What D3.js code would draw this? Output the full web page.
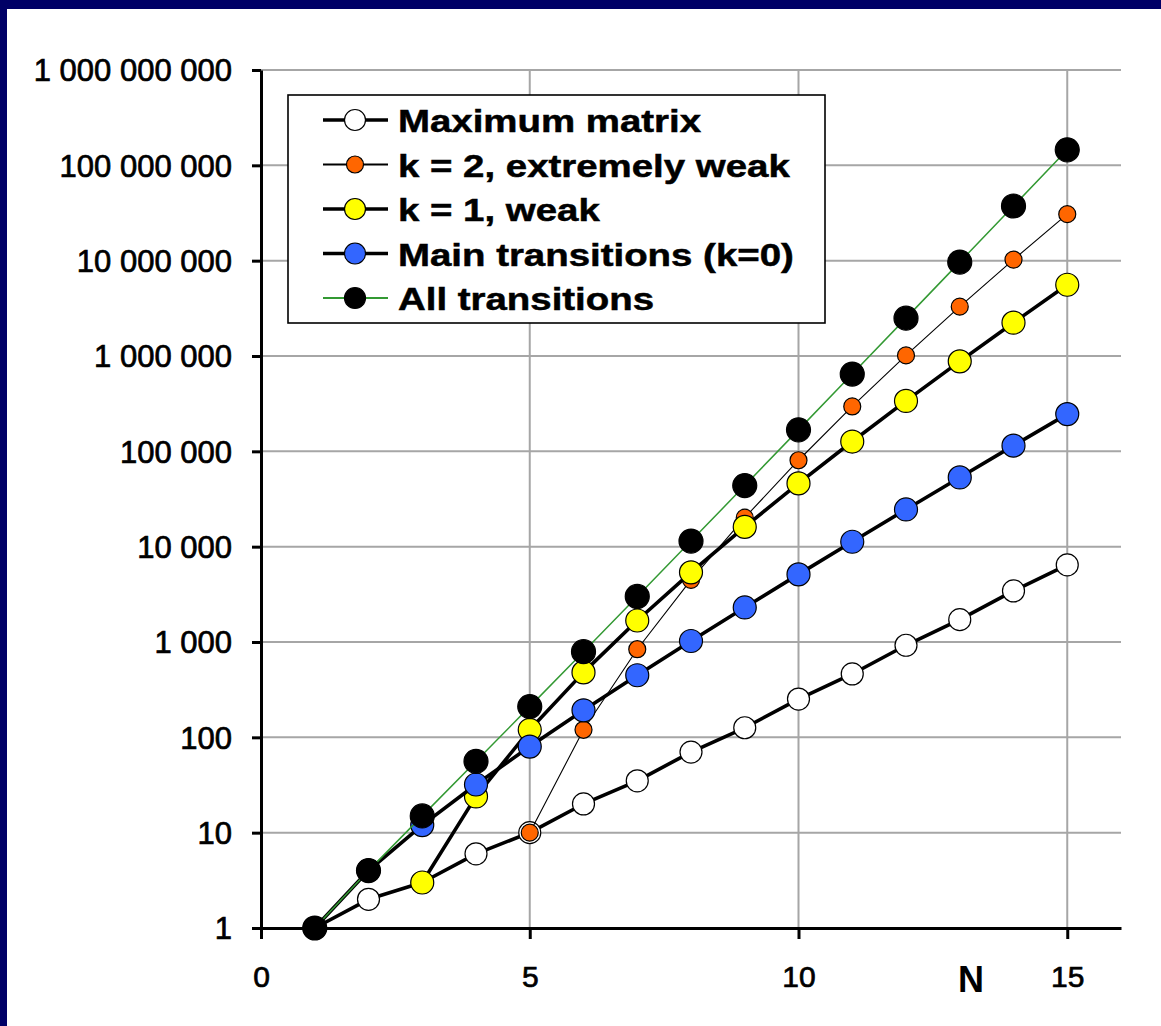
<!DOCTYPE html>
<html><head><meta charset="utf-8">
<script src="https://cdn.jsdelivr.net/npm/d3@7"></script>
<style>html,body{margin:0;padding:0;background:#fff;} svg{display:block}</style>
</head><body>
<svg id="c" width="1161" height="1026"></svg>
<script>
// ---- data ----
const nMax = [1,2,3,4,5,6,7,8,9,10,11,12,13,14,15];
const maxMatrix = [1,2,3,6,10,20,35,70,126,252,462,924,1716,3432,6435];
const nK2 = [5,6,7,8,9,10,11,12,13,14,15];
const k2Weak = [10,120,840,4480,20160,80640,295680,1013760,3294720,10250240,30750720];
const nK1 = [3,4,5,6,7,8,9,10,11,12,13,14,15];
const k1Weak = [3,24,120,480,1680,5376,16128,46080,126720,337920,878592,2236416,5591040];
const nMain = [1,2,3,4,5,6,7,8,9,10,11,12,13,14,15];
const mainTrans = [1,4,12,32,80,192,448,1024,2304,5120,11264,24576,53248,114688,245760];
const nAll = [1,2,3,4,5,6,7,8,9,10,11,12,13,14,15];
const allTrans = [1,4,15,56,210,792,3003,11440,43758,167960,646646,2496144,9657700,37442160,145422675];
const seriesNames = ["Maximum matrix","k = 2, extremely weak","k = 1, weak","Main transitions (k=0)","All transitions"];
const yTickValues = [1,10,100,1000,1e4,1e5,1e6,1e7,1e8,1e9];
const xTickValues = [0,5,10,15];
const xAxisTitle = "N";

// ---- styles ----
const styles = [
  {fill:"#ffffff", r:11,   line:"#000000", lw:3.6},
  {fill:"#ff6600", r:8.5,  line:"#000000", lw:1.1},
  {fill:"#ffff00", r:11.5, line:"#000000", lw:3.6},
  {fill:"#3366ff", r:11.5, line:"#000000", lw:3.6},
  {fill:"#000000", r:12,   line:"#339933", lw:1.5}
];
const series = [
  {name:seriesNames[0], n:nMax,  v:maxMatrix},
  {name:seriesNames[1], n:nK2,   v:k2Weak},
  {name:seriesNames[2], n:nK1,   v:k1Weak},
  {name:seriesNames[3], n:nMain, v:mainTrans},
  {name:seriesNames[4], n:nAll,  v:allTrans}
].map((s,i)=>({...s, st:styles[i], pts:s.n.map((n,j)=>({n:n, v:s.v[j]}))}));

const svg = d3.select("#c");
svg.append("rect").attr("width",1161).attr("height",1026).attr("fill","#fff");
svg.append("rect").attr("x",0).attr("y",0).attr("width",1161).attr("height",9).attr("fill","#000066");
svg.append("rect").attr("x",0).attr("y",0).attr("width",7).attr("height",1026).attr("fill","#000066");

const x = d3.scaleLinear().domain([0,16]).range([261,1121]);
const y = d3.scaleLog().domain([1,1e9]).range([928,70]);

// gridlines
const grid = svg.append("g").attr("stroke","#a6a6a6").attr("stroke-width",2);
grid.selectAll(".hg").data(yTickValues.filter(v=>v>1)).enter().append("line")
  .attr("x1",x(0)).attr("x2",x(16)).attr("y1",d=>y(d)).attr("y2",d=>y(d));
grid.selectAll(".vg").data(xTickValues.filter(v=>v>0)).enter().append("line")
  .attr("x1",d=>x(d)).attr("x2",d=>x(d)).attr("y1",y(1e9)).attr("y2",y(1));

// axes
const loc = d3.formatLocale({decimal:".", thousands:" ", grouping:[3], currency:["",""]});
const fmt = loc.format(",d");
const yAxis = svg.append("g").attr("transform",`translate(${x(0)},0)`)
  .call(d3.axisLeft(y).tickValues(yTickValues).tickFormat(fmt).tickSize(9).tickSizeOuter(0).tickPadding(20));
yAxis.select(".domain").attr("stroke","#000").attr("stroke-width",3);
yAxis.selectAll(".tick line").attr("stroke","#000").attr("stroke-width",3);
yAxis.selectAll(".tick text").attr("font-family","'Liberation Sans', Arial, sans-serif")
  .attr("font-size",31).attr("fill","#000").attr("stroke","#000").attr("stroke-width",0.7).attr("dy","0.35em");

const xAxis = svg.append("g").attr("transform",`translate(0,${y(1)})`)
  .call(d3.axisBottom(x).tickValues(xTickValues).tickSize(11).tickSizeOuter(0));
xAxis.select(".domain").attr("stroke","#000").attr("stroke-width",3);
xAxis.selectAll(".tick line").attr("stroke","#000").attr("stroke-width",3);
xAxis.selectAll(".tick text").attr("font-family","'Liberation Sans', Arial, sans-serif")
  .attr("font-size",30).attr("fill","#000").attr("stroke","#000").attr("stroke-width",0.7).attr("y",59).attr("dy",0);

svg.append("text").attr("x",971).attr("y",992).attr("text-anchor","middle")
  .attr("font-family","'Liberation Sans', Arial, sans-serif").attr("font-weight","bold")
  .attr("font-size",36).text(xAxisTitle);

// series
const line = d3.line().x(d=>x(d.n)).y(d=>y(d.v));
series.forEach(s=>{
  const g = svg.append("g");
  g.append("path").datum(s.pts).attr("d",line).attr("fill","none")
    .attr("stroke",s.st.line).attr("stroke-width",s.st.lw).attr("stroke-linejoin","round");
  g.selectAll("circle").data(s.pts).enter().append("circle")
    .attr("cx",d=>x(d.n)).attr("cy",d=>y(d.v)).attr("r",s.st.r)
    .attr("fill",s.st.fill).attr("stroke","#000").attr("stroke-width",1.2);
});

// legend
const lg = svg.append("g");
lg.append("rect").attr("x",288).attr("y",95).attr("width",537).attr("height",228)
  .attr("fill","#fff").attr("stroke","#000").attr("stroke-width",1.6);
series.forEach((s,i)=>{
  const cy = 120 + i*44.5;
  lg.append("line").attr("x1",323).attr("x2",388).attr("y1",cy).attr("y2",cy)
    .attr("stroke",s.st.line).attr("stroke-width",i===1?1.8:(i===4?2:3.4));
  lg.append("circle").attr("cx",355).attr("cy",cy).attr("r",Math.min(s.st.r,10.5))
    .attr("fill",s.st.fill).attr("stroke","#000").attr("stroke-width",1.2);
  const t = lg.append("text").attr("x",398).attr("y",cy+12)
    .attr("font-family","'Liberation Sans', Arial, sans-serif").attr("font-weight","bold")
    .attr("font-size",32).attr("fill","#000").attr("stroke","#000").attr("stroke-width",0.5).text(s.name);
  const len = t.node().getComputedTextLength();
  t.attr("textLength",len*1.2).attr("lengthAdjust","spacingAndGlyphs");
});
</script>
</body></html>
